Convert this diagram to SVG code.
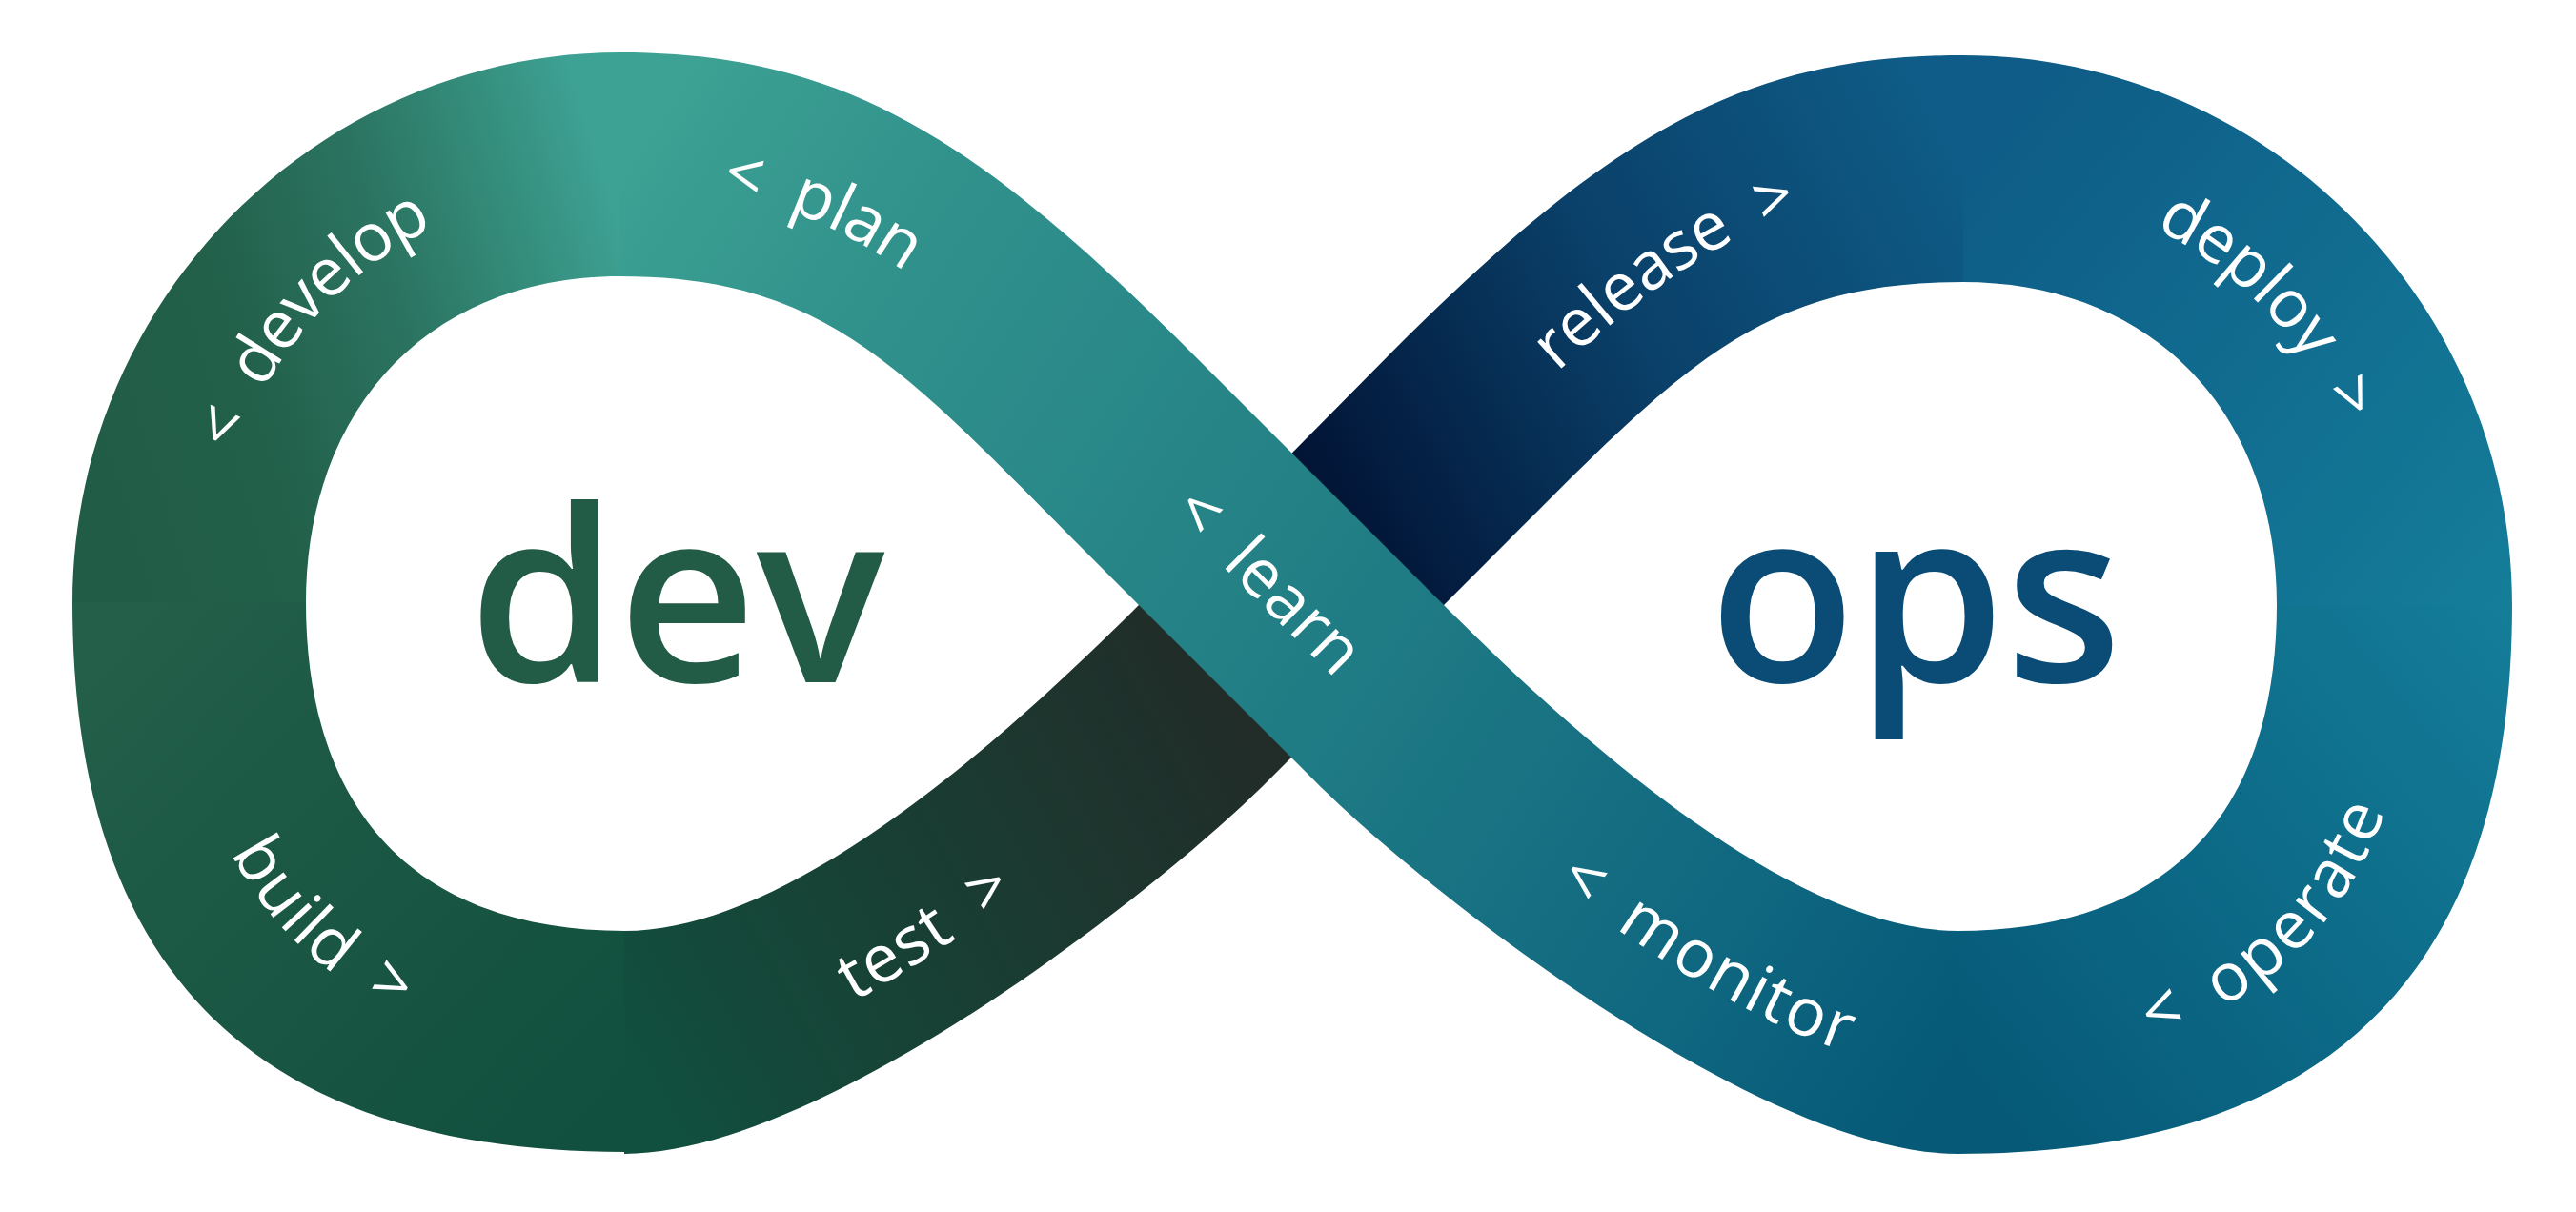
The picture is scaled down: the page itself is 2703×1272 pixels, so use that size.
<svg xmlns="http://www.w3.org/2000/svg" width="2703" height="1272" viewBox="0 0 2703 1272">
  <style>
    .word { font-family: "Open Sans", "Noto Sans", "Liberation Sans", sans-serif; font-weight: 600; font-size: 252px; text-anchor: middle; }
    .lbl { font-family: "Open Sans", "Noto Sans", "Liberation Sans", sans-serif; font-weight: 400; font-size: 70px; fill: #ffffff; text-anchor: middle; letter-spacing: 0.5px; }
  </style>
  <defs>
    <!-- band colour ramps, one per piece of the loop -->
    <linearGradient id="gDevelop" gradientUnits="userSpaceOnUse" x1="76" y1="420" x2="651" y2="240">
      <stop offset="0" stop-color="#215c46"/>
      <stop offset="0.3" stop-color="#22604a"/>
      <stop offset="0.6" stop-color="#2b7461"/>
      <stop offset="0.85" stop-color="#36907f"/>
      <stop offset="1" stop-color="#3da193"/>
    </linearGradient>
    <linearGradient id="gPlan" gradientUnits="userSpaceOnUse" x1="650" y1="172" x2="2055" y2="1097">
      <stop offset="0" stop-color="#3da193"/>
      <stop offset="0.17" stop-color="#31928c"/>
      <stop offset="0.5" stop-color="#227f85"/>
      <stop offset="0.84" stop-color="#0f6780"/>
      <stop offset="1" stop-color="#065a78"/>
    </linearGradient>
    <linearGradient id="gOperate" gradientUnits="userSpaceOnUse" x1="2055" y1="1100" x2="2636" y2="634">
      <stop offset="0" stop-color="#065a78"/>
      <stop offset="1" stop-color="#147d99"/>
    </linearGradient>
    <linearGradient id="gDeploy" gradientUnits="userSpaceOnUse" x1="2060" y1="177" x2="2636" y2="634">
      <stop offset="0" stop-color="#0e5c87"/>
      <stop offset="1" stop-color="#147d99"/>
    </linearGradient>
    <linearGradient id="gRelease" gradientUnits="userSpaceOnUse" x1="2060" y1="177" x2="1356" y2="556">
      <stop offset="0" stop-color="#0e5c87"/>
      <stop offset="0.48" stop-color="#0a4069"/>
      <stop offset="0.92" stop-color="#021638"/>
      <stop offset="1" stop-color="#011230"/>
    </linearGradient>
    <linearGradient id="gTest" gradientUnits="userSpaceOnUse" x1="1356" y1="712" x2="655" y2="1094">
      <stop offset="0" stop-color="#232927"/>
      <stop offset="0.5" stop-color="#1a3c32"/>
      <stop offset="1" stop-color="#114f3e"/>
    </linearGradient>
    <linearGradient id="gBuild" gradientUnits="userSpaceOnUse" x1="655" y1="1150" x2="120" y2="650">
      <stop offset="0" stop-color="#114f3e"/>
      <stop offset="1" stop-color="#235f49"/>
    </linearGradient>

    <!-- centre lines of the band, used to set the stage labels -->
    <path id="pTop" d="M650,172 C875,172 985,265 1200,480 L1430,710 C1540,820 1850,1094 2055,1094"/>
    <path id="pUnder" d="M655,1094 C860,1094 1170,820 1280,710 L1510,480 C1725,265 1835,177 2060,177"/>
    <path id="pDevelop" d="M198,632 C198,371 393,172 650,172"/>
    <path id="pBuild" d="M198,632 C198,937 354,1094 655,1094"/>
    <path id="pOperate" d="M2055,1094 C2358,1094 2512,939 2512,634"/>
    <path id="pDeploy" d="M2060,177 C2317,177 2512,374 2512,634"/>
  </defs>

  <rect width="2703" height="1272" fill="#ffffff"/>

  <!-- the infinity band -->
  <g id="band">
    <path id="seg-develop" fill="url(#gDevelop)" d="M76,633 C76,315 334,55 651,55 L651,290 C452,290 321,427 321,633 Z"/>
    <path id="seg-build" fill="url(#gBuild)" d="M76,632 C76,1019 268,1209 656,1209 L656,977 C440,977 321,855 321,632 Z"/>
    <path id="seg-operate" fill="url(#gOperate)" d="M2054,1211 C2444,1211 2636,1021 2636,634 L2389,634 C2389,857 2272,977 2054,977 Z"/>
    <path id="seg-deploy" fill="url(#gDeploy)" d="M2636,635 C2636,317 2377,58 2059,58 L2059,296 C2257,296 2389,431 2389,635 Z"/>
    <!-- the release / test strand runs under the crossing -->
    <path id="seg-release" fill="url(#gRelease)" d="M1276,556 L1460,370 C1690,140 1830,58 2060,58 L2060,296 C1840,296 1760,390 1560,590 L1435,715 Z"/>
    <path id="seg-test" fill="url(#gTest)" d="M655,977 C860,977 1130,700 1230,600 L1276,556 L1435,715 L1330,820 C1210,940 860,1211 655,1211 Z"/>
    <!-- the plan / monitor strand passes over it -->
    <path id="seg-plan" fill="url(#gPlan)" d="M650,55 C880,55 1020,140 1250,370 L1480,600 C1580,700 1850,977 2055,977 L2055,1211 C1850,1211 1500,940 1380,820 L1150,590 C950,390 870,290 650,290 Z"/>
  </g>

  <!-- stage labels along the band -->
  <g id="labels">
    <text class="lbl" dy="22"><textPath href="#pDevelop" startOffset="47%">&lt;&#8194;develop</textPath></text>
    <text class="lbl" dy="22"><textPath href="#pTop" startOffset="222">&lt;&#8194;plan</textPath></text>
    <text class="lbl" dy="22"><textPath href="#pTop" startOffset="836">&lt;&#8194;learn</textPath></text>
    <text class="lbl" dy="32"><textPath href="#pTop" startOffset="1442">&lt;&#8194;monitor</textPath></text>
    <text class="lbl" dy="24"><textPath href="#pOperate" startOffset="49%">&lt;&#8194;operate</textPath></text>
    <text class="lbl" dy="16"><textPath href="#pDeploy" startOffset="51%">deploy&#8194;&gt;</textPath></text>
    <text class="lbl" dy="22"><textPath href="#pUnder" startOffset="1382">release&#8194;&gt;</textPath></text>
    <text class="lbl" dy="34"><textPath href="#pUnder" startOffset="338">test&#8194;&gt;</textPath></text>
    <text class="lbl" dy="10"><textPath href="#pBuild" startOffset="52%">build&#8194;&gt;</textPath></text>
  </g>

  <!-- wordmark -->
  <g id="wordmark">
    <text id="dev" class="word" x="710" y="716" fill="#225c46">dev</text>
    <text id="ops" class="word" x="2010" y="716" fill="#0b4c76">ops</text>
  </g>
</svg>
